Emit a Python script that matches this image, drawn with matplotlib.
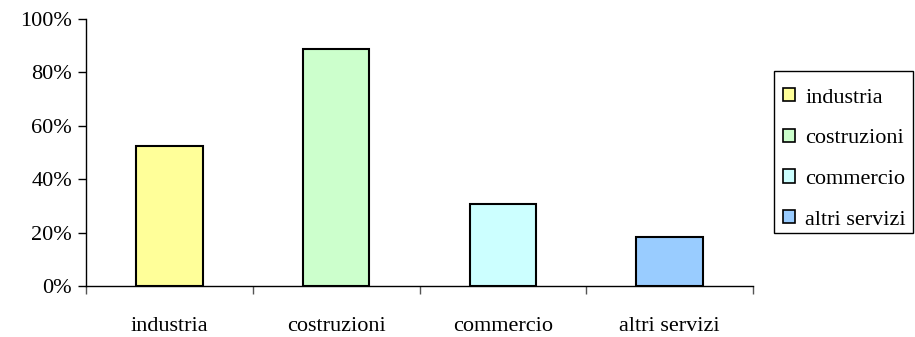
import matplotlib
matplotlib.use("Agg")
import matplotlib.pyplot as plt
from matplotlib.patches import Patch, Rectangle
from matplotlib.ticker import FuncFormatter

categories = ["industria", "costruzioni", "commercio", "altri servizi"]
values = [52.5, 88.6, 30.7, 18.3]
colors = ["#FFFF99", "#CCFFCC", "#CCFFFF", "#99CCFF"]

plt.rcParams['font.family'] = ['Liberation Serif', 'DejaVu Serif']
FS = 16

W, H = 915, 337
fig = plt.figure(figsize=(W/100, H/100), dpi=100)
ax = fig.add_axes([86/W, 1-286/H, (753-86)/W, (286-19)/H])

x = list(range(len(categories)))
ax.bar(x, values, width=0.4, color=colors, edgecolor="black", linewidth=1.5, zorder=3)

ax.set_xlim(-0.5, len(categories) - 0.5)
ax.set_ylim(0, 100)
ax.set_yticks([0, 20, 40, 60, 80, 100])
ax.yaxis.set_major_formatter(FuncFormatter(lambda v, p: f"{int(v)}%"))
ax.set_xticks([i - 0.5 for i in range(len(categories) + 1)])
ax.set_xticklabels([])
ax.set_xticks(x, minor=True)
ax.set_xticklabels(categories, minor=True)
ax.tick_params(axis='x', which='minor', length=0, pad=22, labelsize=FS)
ax.tick_params(axis='x', which='major', length=6, width=1, color="#555555", direction='out')
ax.tick_params(axis='y', length=6, width=1, direction='out', labelsize=FS, pad=4)

for s in ["top", "right"]:
    ax.spines[s].set_visible(False)
for s in ["left", "bottom"]:
    ax.spines[s].set_linewidth(1)
    ax.spines[s].set_color("black")

# legend frame
fig.patches.append(Rectangle((774/W, 1-233/H), (913-774)/W, (233-71)/H,
                             transform=fig.transFigure, fill=False,
                             edgecolor="black", linewidth=1))

handles = [Patch(facecolor=c, edgecolor="black", linewidth=1.2) for c in colors]
leg = fig.legend(handles, categories, loc="upper left",
                 bbox_to_anchor=(783/W, 1-88/H),
                 frameon=False, fontsize=FS, handlelength=0.55, handleheight=0.55,
                 handletextpad=0.45, labelspacing=0.95, borderpad=0,
                 borderaxespad=0)

fig.savefig("out.png", dpi=100)
